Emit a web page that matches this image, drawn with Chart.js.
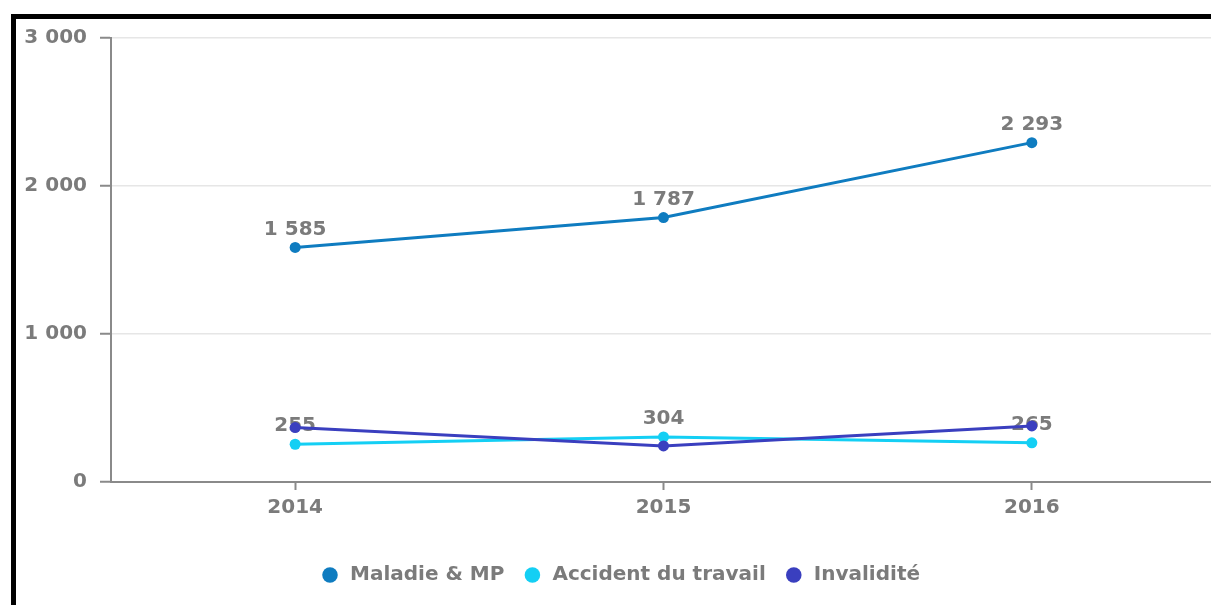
<!DOCTYPE html>
<html>
<head>
<meta charset="utf-8">
<script src="https://cdn.jsdelivr.net/npm/chart.js@4"></script>
<style>
  html, body { margin: 0; padding: 0; background: #fff; overflow: hidden; width: 1211px; height: 605px; }
  #frame { position: absolute; left: 11px; top: 14px; width: 1300px; height: 700px; border: 5px solid #000; box-sizing: border-box; }
  #wrap { position: absolute; left: 0; top: 0; width: 1242px; height: 605px; }
</style>
</head>
<body>
<div id="frame"></div>
<div id="wrap"><canvas id="c"></canvas></div>
<script>
const categories = ['2014', '2015', '2016'];
const maladie = [1585, 1787, 2293];
const accident = [255, 304, 265];
const invalidite = [368, 244, 379];
const seriesNames = ['Maladie & MP', 'Accident du travail', 'Invalidité'];
const seriesColors = ['#0f7cc0', '#14cff4', '#3a3fbf'];
const yTicks = [0, 1000, 2000, 3000];
const labelledSeries = [0, 1];

const FONT = 'DejaVu Sans';
const TEXT = '#7b7b7b';
const fmt = v => String(v).replace(/\B(?=(\d{3})+(?!\d))/g, ' ');

const labelPlugin = {
  id: 'valueLabels',
  afterDatasetDraw(chart, args) {
    if (!labelledSeries.includes(args.index)) return;
    const ctx = chart.ctx;
    const ds = chart.data.datasets[args.index];
    ctx.save();
    ctx.font = 'bold 20px "' + FONT + '"';
    ctx.fillStyle = TEXT;
    ctx.textAlign = 'center';
    ctx.textBaseline = 'middle';
    args.meta.data.forEach((pt, i) => {
      ctx.fillText(fmt(ds.data[i]), pt.x, pt.y - 18);
    });
    ctx.restore();
  }
};

const mk = (i, data, order) => ({
  label: seriesNames[i],
  data: data,
  borderColor: seriesColors[i],
  backgroundColor: seriesColors[i],
  pointBackgroundColor: seriesColors[i],
  pointBorderColor: seriesColors[i],
  borderWidth: 3,
  pointRadius: 5.5,
  pointBorderWidth: 0,
  pointHoverRadius: 5.5,
  tension: 0,
  order: order
});

new Chart(document.getElementById('c'), {
  type: 'line',
  data: {
    labels: categories,
    datasets: [mk(0, maladie, 2), mk(1, accident, 1), mk(2, invalidite, 0)]
  },
  plugins: [labelPlugin],
  options: {
    responsive: true,
    maintainAspectRatio: false,
    animation: false,
    layout: { padding: { left: 24, top: 38, right: 26, bottom: 10 } },
    plugins: {
      tooltip: { enabled: false },
      legend: {
        position: 'bottom',
        labels: {
          usePointStyle: true,
          pointStyle: 'circle',
          boxHeight: 11,
          boxWidth: 20,
          padding: 18,
          color: TEXT,
          font: { family: FONT, size: 20, weight: 'bold' },
          sort: (a, b) => a.datasetIndex - b.datasetIndex
        }
      }
    },
    scales: {
      x: {
        offset: true,
        grid: { display: true, drawOnChartArea: false, drawTicks: true, tickLength: 8, tickColor: '#8a8a8a', tickWidth: 2 },
        border: { display: true, color: '#8a8a8a', width: 2 },
        ticks: { color: TEXT, padding: 6, font: { family: FONT, size: 20, weight: 'bold' } },
        afterFit: s => { s.height = 65; }
      },
      y: {
        min: 0, max: 3000,
        afterBuildTicks: s => { s.ticks = yTicks.map(v => ({ value: v })); },
        grid: { color: '#e6e6e6', lineWidth: 1.5, tickLength: 11, tickColor: '#8a8a8a', tickWidth: 2 },
        border: { display: true, color: '#8a8a8a', width: 2 },
        ticks: { color: TEXT, padding: 13, font: { family: FONT, size: 20, weight: 'bold' }, callback: v => fmt(v) },
        afterFit: s => { s.width = 87; }
      }
    }
  }
});
</script>
</body>
</html>
